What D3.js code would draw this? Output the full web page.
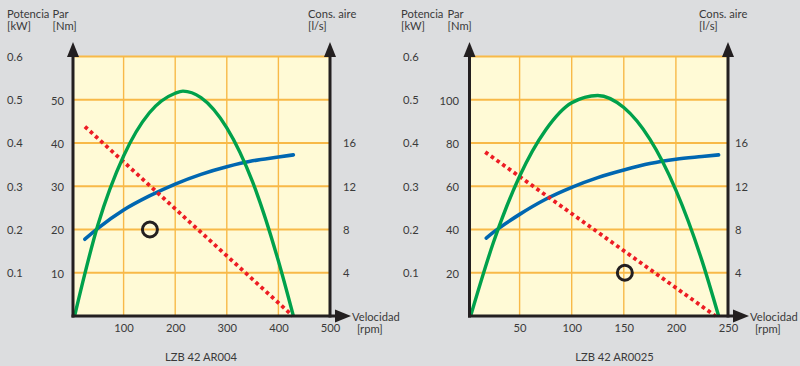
<!DOCTYPE html>
<html><head><meta charset="utf-8">
<script src="https://cdn.jsdelivr.net/npm/d3@7/dist/d3.min.js"></script>
<style>
html,body{margin:0;padding:0;background:#dcdddf;}
svg{display:block;}
text{font-family:Lato,"Open Sans",sans-serif;font-size:11.2px;fill:#3a3a3a;}
</style></head>
<body>
<svg id="c" width="800" height="366"></svg>
<script>
// ---------- DATA ----------
const powerTicks = [0.1, 0.2, 0.3, 0.4, 0.5, 0.6];
const airTicks = [4, 8, 12, 16];

// Chart 1: LZB 42 AR004
const c1Title = "LZB 42 AR004";
const c1RpmTicks = [100, 200, 300, 400, 500];
const c1TorqueTicks = [10, 20, 30, 40, 50];
const c1Power = [[5,0],[50,0.21],[100,0.37],[150,0.47],[200,0.515],[215,0.52],[250,0.505],[300,0.435],[350,0.31],[400,0.127],[429,0]];
const c1Torque = [[25,43.8],[428,0]];
const c1Air = [[25,7.1],[50,8.1],[100,9.8],[150,11.1],[200,12.2],[250,13.1],[300,13.8],[350,14.35],[400,14.7],[429,14.9]];
const c1Point = [151, 20];

// Chart 2: LZB 42 AR0025
const c2Title = "LZB 42 AR0025";
const c2RpmTicks = [50, 100, 150, 200, 250];
const c2TorqueTicks = [20, 40, 60, 80, 100];
const c2Power = [[3,0],[25,0.171],[50,0.323],[75,0.43],[100,0.493],[125,0.51],[150,0.482],[175,0.409],[200,0.291],[225,0.128],[241,0]];
const c2Torque = [[17,75.8],[238,0]];
const c2Air = [[18,7.2],[25,7.75],[50,9.4],[75,10.8],[100,11.9],[125,12.8],[150,13.5],[175,14.1],[200,14.5],[225,14.75],[241,14.9]];
const c2Point = [151, 20];

// ---------- DRAW ----------
const svg = d3.select("#c");
const C = {grid:"#f8b948", bg:"#fffad6", axis:"#231f20", green:"#00a14b", blue:"#0067b1", red:"#ed1c24"};

function drawChart(o){
  const g = svg.append("g");
  const top = 56.5, bottom = 316;
  const x = d3.scaleLinear().domain([0, o.rpmMax]).range([o.x0, o.x1]);
  const yT = d3.scaleLinear().domain([0, o.torqueMax]).range([bottom, top]);
  const yP = d3.scaleLinear().domain([0, 0.6]).range([bottom, top]);
  const yA = d3.scaleLinear().domain([0, 24]).range([bottom, top]);
  const L = o.axisL, R = o.x1;

  g.append("rect").attr("x", L).attr("y", top).attr("width", R - L).attr("height", bottom - top).attr("fill", C.bg);
  // grid
  g.selectAll(".vg").data(o.rpmTicks.filter(d => d < o.rpmMax)).join("line")
    .attr("x1", d => x(d)).attr("x2", d => x(d)).attr("y1", top).attr("y2", bottom)
    .attr("stroke", C.grid).attr("stroke-width", 1.4);
  g.selectAll(".hg").data(o.torqueTicks.concat([o.torqueMax])).join("line")
    .attr("x1", L).attr("x2", R).attr("y1", d => yT(d)).attr("y2", d => yT(d))
    .attr("stroke", C.grid).attr("stroke-width", 1.8);

  // curves
  const lineP = d3.line().x(d => x(d[0])).y(d => yP(d[1])).curve(d3.curveMonotoneX);
  const lineT = d3.line().x(d => x(d[0])).y(d => yT(d[1]));
  const lineA = d3.line().x(d => x(d[0])).y(d => yA(d[1])).curve(d3.curveMonotoneX);
  g.append("path").attr("d", lineA(o.air)).attr("fill", "none").attr("stroke", C.blue).attr("stroke-width", 3.6).attr("stroke-linecap", "round");
  g.append("path").attr("d", lineT(o.torque)).attr("fill", "none").attr("stroke", C.red).attr("stroke-width", 3.8).attr("stroke-dasharray", "3.6,3.4");
  g.append("path").attr("d", lineP(o.power)).attr("fill", "none").attr("stroke", C.green).attr("stroke-width", 3.4);
  g.append("circle").attr("cx", x(o.point[0])).attr("cy", yT(o.point[1])).attr("r", 7.5)
    .attr("fill", "none").attr("stroke", C.axis).attr("stroke-width", 3);

  // axes lines + arrows
  const aw = 3;
  g.append("line").attr("x1", L).attr("x2", L).attr("y1", bottom + 1.5).attr("y2", 52).attr("stroke", C.axis).attr("stroke-width", aw);
  g.append("line").attr("x1", R).attr("x2", R).attr("y1", bottom + 1.5).attr("y2", 52).attr("stroke", C.axis).attr("stroke-width", aw);
  g.append("line").attr("x1", L - 1.5).attr("x2", R + 8).attr("y1", bottom).attr("y2", bottom).attr("stroke", C.axis).attr("stroke-width", aw);
  [L, R].forEach(ax => g.append("path").attr("d", `M${ax-6},57 L${ax},42 L${ax+6},57 Z`).attr("fill", C.axis));
  g.append("path").attr("d", `M${R+5},${bottom-6.5} L${R+21},${bottom} L${R+5},${bottom+6.5} Z`).attr("fill", C.axis);

  // x ticks via d3 axis
  const xa = g.append("g").attr("transform", `translate(0,${bottom})`)
    .call(d3.axisBottom(x).tickValues(o.rpmTicks).tickSize(0).tickPadding(8));
  xa.select(".domain").remove();
  xa.selectAll("text").attr("font-size", null).attr("font-family", null).attr("fill", "#3a3a3a");
  // torque ticks via d3 axis
  const ya = g.append("g").attr("transform", `translate(${o.nmX},0)`)
    .call(d3.axisLeft(yT).tickValues(o.torqueTicks).tickSize(0).tickPadding(0));
  ya.select(".domain").remove();
  ya.selectAll("text").attr("font-size", null).attr("font-family", null).attr("fill", "#3a3a3a").attr("dy", "0.4em");
  // power ticks
  g.selectAll(".pt").data(powerTicks).join("text").attr("x", o.kwX).attr("y", d => yP(d)).attr("dy", "0.4em")
    .text(d => d3.format(".1f")(d));
  // air ticks
  g.selectAll(".at").data(airTicks).join("text").attr("x", o.lsX).attr("y", d => yA(d)).attr("dy", "0.4em").text(d => d);

  // headers
  const t = (tx, ty, s, anchor) => g.append("text").attr("x", tx).attr("y", ty).attr("text-anchor", anchor || "start").text(s);
  t(o.potX, 18, "Potencia"); t(o.potX, 30, "[kW]");
  t(o.parX, 18, "Par"); t(o.parX, 30, "[Nm]");
  t(o.consX, 18, "Cons. aire"); t(o.consX, 30, "[l/s]");
  t(R + 22, 321, "Velocidad"); t(R + 27, 333, "[rpm]");
  t(o.titleX, 361, o.title, "middle");
}

drawChart({title:c1Title, rpmMax:500, torqueMax:60, rpmTicks:c1RpmTicks, torqueTicks:c1TorqueTicks,
  power:c1Power, torque:c1Torque, air:c1Air, point:c1Point,
  x0:72, x1:330, axisL:73, nmX:64, kwX:7, potX:7, parX:52.5, consX:308, lsX:343, titleX:201});
drawChart({title:c2Title, rpmMax:250, torqueMax:120, rpmTicks:c2RpmTicks, torqueTicks:c2TorqueTicks,
  power:c2Power, torque:c2Torque, air:c2Air, point:c2Point,
  x0:467.5, x1:728, axisL:469.5, nmX:459, kwX:403, potX:401, parX:447.5, consX:699, lsX:735, titleX:614.5});
</script>
</body></html>
